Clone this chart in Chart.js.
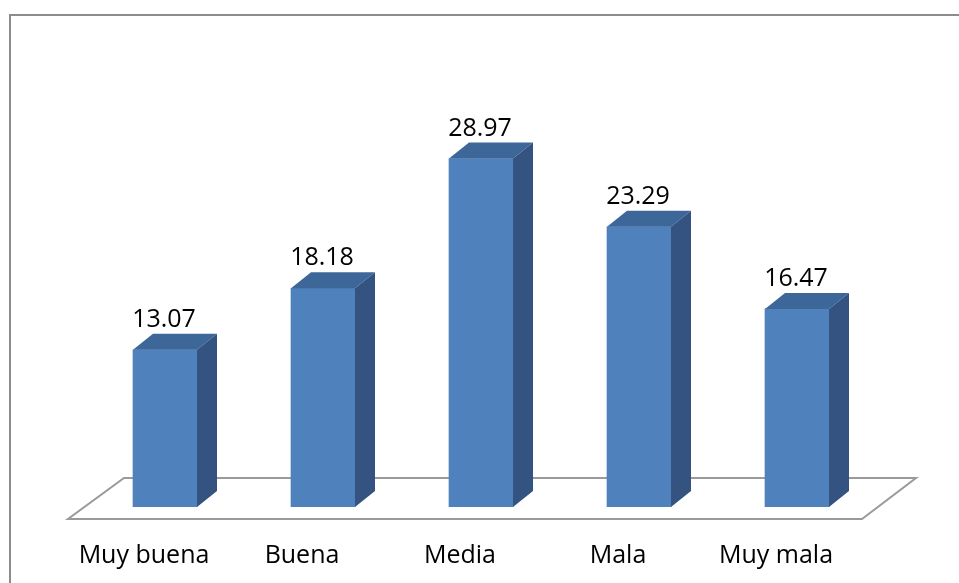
<!DOCTYPE html>
<html>
<head>
<meta charset="utf-8">
<script src="https://cdn.jsdelivr.net/npm/chart.js@4"></script>
<style>
    html, body { margin: 0; padding: 0; background: #fff; }
    #wrap { width: 959px; height: 583px; }
</style>
</head>
<body>
<div id="wrap"><canvas id="chart" width="959" height="583"></canvas></div>
<script>
// categories and values
const categories = ['Muy buena', 'Buena', 'Media', 'Mala', 'Muy mala'];
const values = [13.07, 18.18, 28.97, 23.29, 16.47];

const DEPTH_X = 20;
const DEPTH_Y = 16;

// frame lines (top + left) and the 3d floor
const framePlugin = {
    id: 'frame',
    beforeDatasetsDraw(chart) {
        const { ctx, chartArea: a } = chart;
        ctx.save();
        ctx.strokeStyle = '#8c8c8c';
        ctx.lineWidth = 2;
        ctx.beginPath();
        ctx.moveTo(10, 583);
        ctx.lineTo(10, 15);
        ctx.lineTo(959, 15);
        ctx.stroke();

        // floor
        ctx.strokeStyle = '#9a9a9a';
        ctx.lineWidth = 2;
        ctx.beginPath();
        ctx.moveTo(a.left - 18, a.bottom + 12);
        ctx.lineTo(a.right - 14, a.bottom + 12);
        ctx.lineTo(a.right + 40, a.bottom - 29);
        ctx.lineTo(a.left + 38, a.bottom - 29);
        ctx.closePath();
        ctx.stroke();
        ctx.restore();
    }
};

// 3d faces + value labels
const bar3dPlugin = {
    id: 'bar3d',
    afterDatasetsDraw(chart) {
        const { ctx } = chart;
        const meta = chart.getDatasetMeta(0);
        ctx.save();
        meta.data.forEach((bar, i) => {
            const left = bar.x - bar.width / 2;
            const right = bar.x + bar.width / 2;
            const top = bar.y;
            const base = bar.base;

            // top face
            ctx.fillStyle = '#3d6799';
            ctx.beginPath();
            ctx.moveTo(left, top);
            ctx.lineTo(left + DEPTH_X, top - DEPTH_Y);
            ctx.lineTo(right + DEPTH_X, top - DEPTH_Y);
            ctx.lineTo(right, top);
            ctx.closePath();
            ctx.fill();

            // side face
            ctx.fillStyle = '#345381';
            ctx.beginPath();
            ctx.moveTo(right, top);
            ctx.lineTo(right + DEPTH_X, top - DEPTH_Y);
            ctx.lineTo(right + DEPTH_X, base - DEPTH_Y);
            ctx.lineTo(right, base);
            ctx.closePath();
            ctx.fill();

            // label
            ctx.fillStyle = '#000';
            ctx.font = '25px "Open Sans", sans-serif';
            ctx.textAlign = 'center';
            ctx.textBaseline = 'alphabetic';
            ctx.fillText(values[i].toFixed(2), bar.x - 1, top - DEPTH_Y - 7);
        });
        ctx.restore();
    }
};

new Chart(document.getElementById('chart'), {
    type: 'bar',
    data: {
        labels: categories,
        datasets: [{
            data: values,
            backgroundColor: '#4f81bd',
            borderWidth: 0,
            barThickness: 64
        }]
    },
    options: {
        responsive: false,
        animation: false,
        layout: {
            padding: { left: 86, right: 83, top: 86, bottom: 0 }
        },
        scales: {
            y: {
                display: false,
                min: 0,
                max: 35
            },
            x: {
                grid: { display: false, drawTicks: false },
                border: { display: false },
                ticks: {
                    color: '#000',
                    font: { family: '"Open Sans", sans-serif', size: 25 },
                    padding: 34,
                    labelOffset: -21,
                    maxRotation: 0
                },
                afterFit(scale) {
                    scale.height = 76;
                }
            }
        },
        plugins: {
            legend: { display: false },
            tooltip: { enabled: false }
        }
    },
    plugins: [framePlugin, bar3dPlugin]
});
</script>
</body>
</html>
